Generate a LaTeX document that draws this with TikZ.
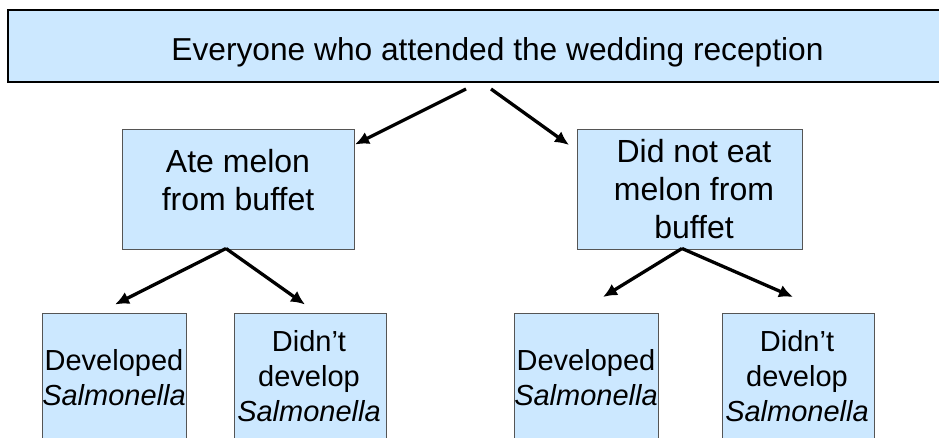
\documentclass[tikz,border=0pt]{standalone}
\usepackage{fontspec}
\setmainfont{Liberation Sans}
\usetikzlibrary{arrows.meta}
\definecolor{boxfill}{RGB}{204,232,255}
\definecolor{boxline}{RGB}{85,85,85}
\begin{document}
\begin{tikzpicture}[x=1pt,y=-1pt,
  box/.style={draw=boxline,line width=1.2pt,fill=boxfill,anchor=north west,inner sep=0pt},
  toptext/.style={font=\fontsize{31.7}{38}\selectfont,anchor=base,inner sep=0pt},
  midtext/.style={font=\fontsize{32}{38}\selectfont,anchor=base,align=center,inner sep=0pt},
  bottext/.style={font=\fontsize{29}{35}\selectfont,anchor=base,align=center,inner sep=0pt},
  arr/.style={line width=3.3pt,-{Latex[length=14pt,width=13pt]}}]
\useasboundingbox (0,0) rectangle (939,438);
\clip (0,0) rectangle (939,438);
\fill[white] (0,0) rectangle (939,438);
% boxes
\node[box,draw=black,line width=1.8pt,minimum width=945pt,minimum height=72pt] (top) at (7,9) {};
\node[box,minimum width=232pt,minimum height=120pt] (ml) at (122,129) {};
\node[box,minimum width=225pt,minimum height=120pt] (mr) at (577,129) {};
\node[box,minimum width=144pt,minimum height=150pt] (b1) at (42,313) {};
\node[box,minimum width=152pt,minimum height=150pt] (b2) at (234,313) {};
\node[box,minimum width=144pt,minimum height=150pt] (b3) at (514,313) {};
\node[box,minimum width=152pt,minimum height=150pt] (b4) at (722,313) {};
% texts (base anchor = baseline of the last line)
\node[toptext] (ttop) at (497.5,61) {Everyone who attended the wedding reception};
\node[midtext] (tml) at (238,211) {Ate melon\\from buffet};
\node[midtext] (tmr) at (694,239) {Did not eat\\melon from\\buffet};
\node[bottext] (tb1) at (114,405.7) {Developed\\\textit{Salmonella}};
\node[bottext] (tb2) at (309,421.7) {Didn’t\\develop\\\textit{Salmonella}};
\node[bottext] (tb3) at (586,405.7) {Developed\\\textit{Salmonella}};
\node[bottext] (tb4) at (797,421.7) {Didn’t\\develop\\\textit{Salmonella}};
% arrow ends
\coordinate (a1s) at (466,89);
\coordinate (a1e) at (355,144.5);
\coordinate (a2s) at (491,89);
\coordinate (a2e) at (569,145);
\coordinate (b0s) at (226,248.5);
\coordinate (b1e) at (115,304.5);
\coordinate (b2e) at (305,304.5);
\coordinate (c0s) at (682,248.5);
\coordinate (c1e) at (603,297);
\coordinate (c2e) at (793,297);
\draw[arr] (a1s) -- (a1e);
\draw[arr] (a2s) -- (a2e);
\draw[arr] (b0s) -- (b1e);
\draw[arr] (b0s) -- (b2e);
\draw[arr] (c0s) -- (c1e);
\draw[arr] (c0s) -- (c2e);
\end{tikzpicture}
\end{document}
